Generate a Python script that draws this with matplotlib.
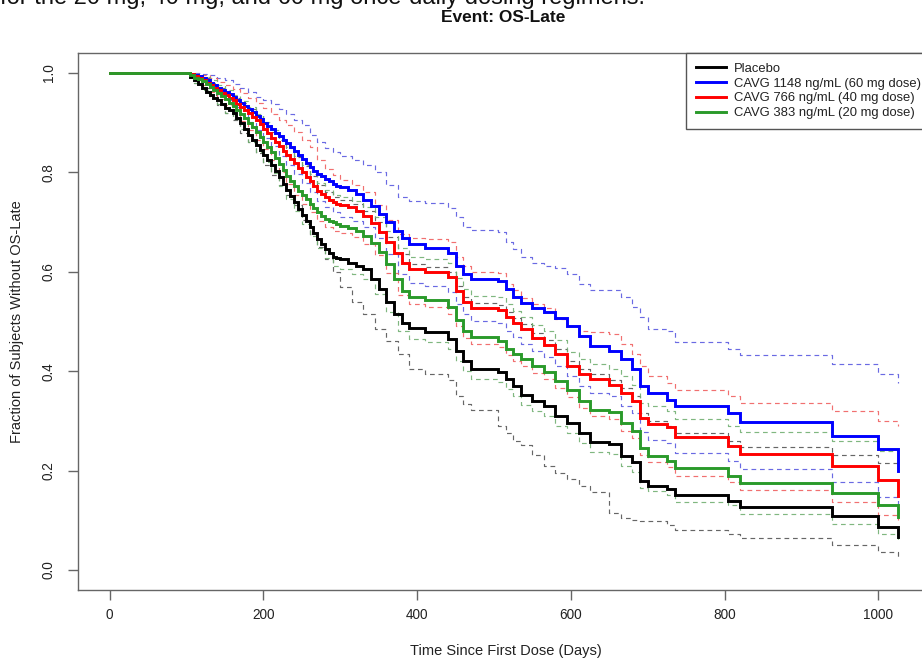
import matplotlib
matplotlib.use("Agg")
import matplotlib.pyplot as plt

plt.rcParams['font.family'] = ['Liberation Sans', 'DejaVu Sans']

# ---- data ----
# step times of the solid (point-estimate) curves
days = [0, 100, 105, 110, 115, 120, 125, 130, 135, 140,
        145, 150, 155, 160, 165, 170, 175, 180, 185, 190,
        195, 200, 205, 210, 215, 220, 225, 230, 235, 240,
        245, 250, 255, 260, 265, 270, 275, 280, 285, 290,
        295, 300, 310, 320, 330, 340, 350, 360, 370, 380,
        390, 410, 440, 450, 460, 470, 505, 515, 525, 535,
        550, 565, 580, 595, 610, 625, 650, 665, 680, 690,
        700, 725, 735, 805, 820, 940, 1000, 1026]

placebo = [1.0, 1.0, 0.992, 0.985, 0.978, 0.97, 0.962, 0.955, 0.95, 0.945,
           0.937, 0.93, 0.925, 0.92, 0.91, 0.90, 0.888, 0.875, 0.865, 0.855,
           0.845, 0.835, 0.825, 0.815, 0.802, 0.79, 0.777, 0.765, 0.752, 0.74,
           0.727, 0.715, 0.702, 0.69, 0.677, 0.665, 0.655, 0.645, 0.637, 0.63,
           0.627, 0.625, 0.618, 0.612, 0.605, 0.585, 0.565, 0.54, 0.515, 0.497,
           0.486, 0.478, 0.465, 0.44, 0.42, 0.404, 0.398, 0.385, 0.37, 0.353,
           0.34, 0.33, 0.31, 0.295, 0.275, 0.257, 0.253, 0.229, 0.217, 0.18,
           0.169, 0.163, 0.151, 0.139, 0.126, 0.108, 0.086, 0.066]

dose60 = [1.0, 1.0, 0.998, 0.995, 0.993, 0.99, 0.985, 0.98, 0.975, 0.97,
          0.966, 0.962, 0.957, 0.952, 0.946, 0.94, 0.934, 0.928, 0.921, 0.914,
          0.907, 0.90, 0.894, 0.888, 0.88, 0.873, 0.865, 0.858, 0.85, 0.843,
          0.835, 0.827, 0.818, 0.81, 0.803, 0.797, 0.792, 0.787, 0.782, 0.777,
          0.773, 0.77, 0.764, 0.757, 0.745, 0.732, 0.717, 0.70, 0.683, 0.667,
          0.655, 0.648, 0.638, 0.612, 0.595, 0.585, 0.582, 0.565, 0.55, 0.537,
          0.527, 0.52, 0.507, 0.49, 0.47, 0.45, 0.44, 0.425, 0.405, 0.37,
          0.357, 0.343, 0.33, 0.315, 0.297, 0.269, 0.243, 0.20]

dose40 = [1.0, 1.0, 0.997, 0.993, 0.99, 0.986, 0.98, 0.975, 0.97, 0.965,
          0.96, 0.955, 0.95, 0.945, 0.938, 0.932, 0.926, 0.92, 0.912, 0.905,
          0.897, 0.888, 0.879, 0.87, 0.861, 0.852, 0.843, 0.835, 0.826, 0.818,
          0.809, 0.80, 0.791, 0.782, 0.772, 0.763, 0.756, 0.75, 0.745, 0.74,
          0.737, 0.735, 0.73, 0.722, 0.712, 0.698, 0.68, 0.66, 0.637, 0.617,
          0.605, 0.60, 0.59, 0.562, 0.54, 0.527, 0.524, 0.51, 0.497, 0.484,
          0.466, 0.452, 0.435, 0.41, 0.395, 0.385, 0.372, 0.356, 0.34, 0.305,
          0.293, 0.288, 0.267, 0.25, 0.233, 0.209, 0.181, 0.149]

dose20 = [1.0, 1.0, 0.995, 0.99, 0.987, 0.983, 0.978, 0.972, 0.966, 0.96,
          0.953, 0.947, 0.94, 0.934, 0.926, 0.918, 0.909, 0.90, 0.891, 0.882,
          0.872, 0.862, 0.851, 0.84, 0.828, 0.817, 0.805, 0.793, 0.782, 0.772,
          0.763, 0.755, 0.746, 0.737, 0.728, 0.72, 0.713, 0.707, 0.703, 0.70,
          0.696, 0.693, 0.688, 0.682, 0.672, 0.658, 0.64, 0.615, 0.585, 0.562,
          0.55, 0.544, 0.53, 0.503, 0.48, 0.468, 0.46, 0.445, 0.434, 0.425,
          0.41, 0.398, 0.38, 0.362, 0.34, 0.323, 0.317, 0.295, 0.28, 0.245,
          0.229, 0.219, 0.205, 0.19, 0.175, 0.155, 0.131, 0.107]

# step times of the dashed confidence bands
ci_days = [0, 100, 110, 120, 130, 140, 150, 160, 170, 180,
           190, 200, 210, 220, 230, 240, 250, 260, 270, 280,
           290, 300, 315, 330, 345, 360, 375, 390, 410, 440,
           450, 460, 470, 505, 515, 525, 535, 550, 565, 580,
           595, 610, 625, 650, 665, 680, 690, 700, 725, 735,
           805, 820, 940, 1000, 1026]

placebo_hi = [1.0, 1.0, 0.995, 0.99, 0.98, 0.97, 0.96, 0.95, 0.94, 0.928,
              0.915, 0.90, 0.882, 0.865, 0.848, 0.83, 0.812, 0.793, 0.774, 0.76,
              0.75, 0.745, 0.737, 0.722, 0.70, 0.67, 0.635, 0.615, 0.61, 0.60,
              0.572, 0.55, 0.537, 0.534, 0.52, 0.507, 0.494, 0.476, 0.462, 0.445,
              0.42, 0.405, 0.395, 0.382, 0.366, 0.35, 0.315, 0.30, 0.29, 0.275,
              0.26, 0.247, 0.231, 0.215, 0.21]
placebo_lo = [1.0, 1.0, 0.98, 0.97, 0.955, 0.935, 0.92, 0.905, 0.88, 0.86,
              0.838, 0.815, 0.795, 0.775, 0.755, 0.735, 0.705, 0.675, 0.65, 0.625,
              0.60, 0.57, 0.54, 0.515, 0.485, 0.46, 0.435, 0.405, 0.395, 0.383,
              0.35, 0.335, 0.323, 0.29, 0.275, 0.26, 0.252, 0.232, 0.21, 0.195,
              0.183, 0.17, 0.158, 0.115, 0.105, 0.10, 0.099, 0.098, 0.09, 0.08,
              0.072, 0.064, 0.05, 0.036, 0.026]
dose60_hi = [1.0, 1.0, 1.0, 0.998, 0.995, 0.99, 0.985, 0.978, 0.97, 0.962,
             0.952, 0.945, 0.937, 0.928, 0.918, 0.905, 0.895, 0.875, 0.86, 0.848,
             0.84, 0.832, 0.825, 0.815, 0.80, 0.775, 0.75, 0.742, 0.738, 0.728,
             0.71, 0.69, 0.685, 0.68, 0.66, 0.645, 0.63, 0.618, 0.612, 0.608,
             0.595, 0.575, 0.564, 0.564, 0.55, 0.53, 0.51, 0.484, 0.48, 0.458,
             0.444, 0.432, 0.414, 0.394, 0.377]
dose60_lo = [1.0, 1.0, 0.99, 0.982, 0.97, 0.958, 0.945, 0.932, 0.918, 0.902,
             0.886, 0.87, 0.852, 0.833, 0.815, 0.796, 0.778, 0.76, 0.742, 0.73,
             0.72, 0.71, 0.703, 0.69, 0.668, 0.635, 0.595, 0.578, 0.572, 0.56,
             0.535, 0.515, 0.502, 0.497, 0.48, 0.468, 0.455, 0.44, 0.428, 0.41,
             0.39, 0.37, 0.357, 0.35, 0.33, 0.315, 0.278, 0.262, 0.255, 0.235,
             0.219, 0.203, 0.177, 0.147, 0.12]
dose40_hi = [1.0, 1.0, 0.998, 0.995, 0.99, 0.982, 0.975, 0.968, 0.96, 0.95,
             0.94, 0.93, 0.918, 0.905, 0.895, 0.882, 0.866, 0.85, 0.825, 0.807,
             0.795, 0.785, 0.775, 0.76, 0.735, 0.705, 0.675, 0.668, 0.665, 0.66,
             0.63, 0.612, 0.60, 0.598, 0.575, 0.564, 0.548, 0.535, 0.527, 0.505,
             0.49, 0.48, 0.478, 0.475, 0.455, 0.435, 0.41, 0.39, 0.377, 0.363,
             0.35, 0.337, 0.32, 0.30, 0.29]
dose40_lo = [1.0, 1.0, 0.985, 0.975, 0.962, 0.948, 0.935, 0.92, 0.903, 0.885,
             0.866, 0.846, 0.824, 0.80, 0.777, 0.755, 0.737, 0.72, 0.703, 0.69,
             0.683, 0.677, 0.67, 0.656, 0.633, 0.598, 0.553, 0.535, 0.53, 0.515,
             0.49, 0.467, 0.455, 0.448, 0.432, 0.42, 0.41, 0.396, 0.384, 0.366,
             0.348, 0.326, 0.31, 0.303, 0.28, 0.265, 0.232, 0.217, 0.208, 0.19,
             0.177, 0.161, 0.137, 0.11, 0.10]
dose20_hi = [1.0, 1.0, 0.997, 0.992, 0.985, 0.976, 0.966, 0.956, 0.944, 0.932,
             0.918, 0.902, 0.885, 0.867, 0.85, 0.833, 0.815, 0.797, 0.778, 0.765,
             0.755, 0.75, 0.742, 0.73, 0.71, 0.682, 0.648, 0.63, 0.625, 0.617,
             0.588, 0.565, 0.552, 0.549, 0.535, 0.522, 0.51, 0.493, 0.48, 0.463,
             0.438, 0.425, 0.415, 0.405, 0.39, 0.372, 0.337, 0.33, 0.32, 0.303,
             0.29, 0.277, 0.26, 0.24, 0.235]
dose20_lo = [1.0, 1.0, 0.98, 0.965, 0.95, 0.937, 0.92, 0.908, 0.887, 0.862,
             0.84, 0.82, 0.798, 0.773, 0.747, 0.722, 0.697, 0.672, 0.647, 0.627,
             0.612, 0.606, 0.596, 0.586, 0.555, 0.52, 0.48, 0.465, 0.458, 0.445,
             0.42, 0.40, 0.384, 0.378, 0.365, 0.35, 0.333, 0.32, 0.31, 0.29,
             0.275, 0.256, 0.238, 0.234, 0.21, 0.198, 0.165, 0.159, 0.152, 0.137,
             0.13, 0.112, 0.092, 0.072, 0.06]

labels = ["Placebo",
          "CAVG 1148 ng/mL (60 mg dose)",
          "CAVG 766 ng/mL (40 mg dose)",
          "CAVG 383 ng/mL (20 mg dose)"]
x_ticks = [0, 200, 400, 600, 800, 1000]
y_ticks = [0.0, 0.2, 0.4, 0.6, 0.8, 1.0]

# ---- figure ----
fig = plt.figure(figsize=(9.22, 6.61), dpi=100)
ax = fig.add_axes([78 / 922, 71 / 661, 855 / 922, 537 / 661])

series = [
    (placebo, placebo_hi, placebo_lo, "black", "#555555"),
    (dose60, dose60_hi, dose60_lo, "#0000ff", "#5a5ae0"),
    (dose40, dose40_hi, dose40_lo, "#ff0000", "#f06060"),
    (dose20, dose20_hi, dose20_lo, "#2a9a2a", "#72b072"),
]

for vals, hi, lo, col, dcol in series:
    for band in (hi, lo):
        ax.step(ci_days, band, where="post", color=dcol, lw=0.85,
                linestyle=(0, (4, 3.2)), alpha=0.9, zorder=2)

handles = []
for (vals, hi, lo, col, dcol), lab in zip(series, labels):
    h, = ax.step(days, vals, where="post", color=col, lw=2.1,
                 solid_joinstyle="miter", zorder=3, label=lab)
    handles.append(h)

ax.set_xlim(-41.2, 1071.2)
ax.set_ylim(-0.04, 1.04)
ax.set_xticks(x_ticks)
ax.set_xticklabels([str(v) for v in x_ticks])
ax.set_yticks(y_ticks)
ax.set_yticklabels([f"{v:.1f}" for v in y_ticks], rotation=90, va="center")

for sp in ax.spines.values():
    sp.set_color("#666666")
    sp.set_linewidth(1.0)
ax.tick_params(axis="both", direction="out", length=7, width=1.0,
               color="#666666", labelsize=9.8, labelcolor="#222222")
ax.tick_params(axis="x", pad=6)
ax.tick_params(axis="y", pad=9)

ax.set_xlabel("Time Since First Dose (Days)", fontsize=10.5, color="#222222",
              labelpad=16)
ax.set_ylabel("Fraction of Subjects Without OS-Late", fontsize=10.5,
              color="#222222", labelpad=13)

fig.text(503 / 922, 1 - 18 / 661, "Event: OS-Late", ha="center", va="center",
         fontsize=12.5, fontweight="bold", color="#111111")
fig.text(0.0, 1 - 4 / 661, "for the 20 mg, 40 mg, and 60 mg once-daily dosing regimens.",
         ha="left", va="baseline", fontsize=17, color="#111111")

leg = ax.legend(handles=handles, loc="upper left",
                bbox_to_anchor=((686 - 78) / 855, 1.0), borderaxespad=0,
                fontsize=9.4, handlelength=2.3, handletextpad=0.6,
                labelspacing=0.2, borderpad=0.75, frameon=True,
                fancybox=False, framealpha=1.0)
leg.get_frame().set_edgecolor("#555555")
leg.get_frame().set_linewidth(1.0)
for t in leg.get_texts():
    t.set_color("#222222")

fig.savefig("out.png", dpi=100)
